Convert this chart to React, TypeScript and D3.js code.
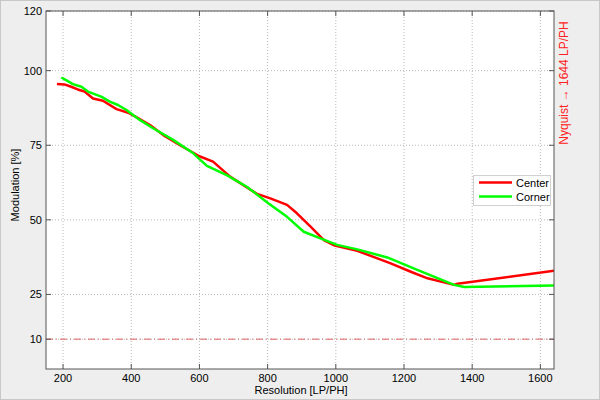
import React from "react";
import * as d3 from "d3";

const centerX = [182, 204, 224, 243, 263, 288, 317, 357, 391, 415, 455, 494, 543, 600, 640, 690, 769, 808, 857, 886, 926, 965, 994, 1063, 1122, 1161, 1220, 1269, 1347, 1357, 1640];
const centerY = [95.5, 95.4, 94.6, 93.7, 93.0, 90.7, 89.9, 87.1, 85.9, 84.4, 81.8, 78.4, 75.0, 71.3, 69.5, 64.5, 58.7, 57.2, 55.0, 52.2, 47.7, 43.2, 41.5, 39.6, 37.1, 35.4, 32.6, 30.4, 28.2, 28.6, 32.9];
const cornerX = [195, 209, 229, 254, 273, 312, 337, 361, 386, 425, 464, 523, 582, 622, 680, 739, 803, 857, 906, 955, 1004, 1063, 1151, 1239, 1347, 1377, 1640];
const cornerY = [97.7, 96.8, 95.5, 94.6, 93.0, 91.3, 89.6, 88.5, 86.8, 83.5, 80.7, 76.8, 72.3, 68.1, 65.0, 61.1, 55.5, 51.0, 46.0, 43.8, 41.6, 40.1, 37.4, 33.2, 28.2, 27.5, 28.0];
const xTicks = [200, 400, 600, 800, 1000, 1200, 1400, 1600];
const yTicks = [10, 25, 50, 75, 100, 120];
const refLevel = [10];
const seriesNames = ["Center", "Corner"];
const seriesColors = ["#ff0000", "#00ff00"];

const W = 600, H = 400;
const L = 46, R = 554, T = 11, B = 369;
const font = "Arial, 'Liberation Sans', sans-serif";

export default function App() {
  const x = d3.scaleLinear().domain([150, 1640]).range([L, R]);
  const y = d3.scaleLinear().domain([0, 120]).range([B, T]);
  const line = d3.line<[number, number]>().x(d => x(d[0])).y(d => y(d[1]));
  const center: [number, number][] = centerX.map((v, i) => [v, centerY[i]]);
  const corner: [number, number][] = cornerX.map((v, i) => [v, cornerY[i]]);
  const series = [center, corner];
  return (
    <svg width={W} height={H} style={{ position: "absolute", left: 0, top: 0 }} fontFamily={font}>
      <rect x={0} y={0} width={W} height={H} fill="#eeeeee" />
      <rect x={0.5} y={0.5} width={W - 1} height={H - 1} fill="none" stroke="#c8c8c8" />
      <rect x={L} y={T} width={R - L} height={B - T} fill="#ffffff" />
      <defs>
        <clipPath id="plot">
          <rect x={L} y={T} width={R - L} height={B - T} />
        </clipPath>
      </defs>
      {xTicks.map(t => (
        <line key={"gx" + t} x1={x(t)} x2={x(t)} y1={T} y2={B} stroke="#b8b8b8" strokeWidth={1} strokeDasharray="1,2" />
      ))}
      {yTicks.map(t => (
        <line key={"gy" + t} x1={L} x2={R} y1={y(t)} y2={y(t)} stroke="#b8b8b8" strokeWidth={1} strokeDasharray="1,2" />
      ))}
      {refLevel.map(t => (
        <line key={"ref" + t} x1={L} x2={R} y1={y(t)} y2={y(t)} stroke="#e06060" strokeWidth={1} strokeDasharray="7,3,1,3" />
      ))}
      <g clipPath="url(#plot)">
        {series.map((s, i) => (
          <path key={i} d={line(s) || ""} fill="none" stroke={seriesColors[i]} strokeWidth={2.5} strokeLinejoin="round" />
        ))}
      </g>
      <rect x={L} y={T} width={R - L} height={B - T} fill="none" stroke="#555555" strokeWidth={1} />
      {xTicks.map(t => (
        <g key={"tx" + t}>
          <line x1={x(t)} x2={x(t)} y1={B} y2={B - 5} stroke="#555555" />
          <line x1={x(t)} x2={x(t)} y1={T} y2={T + 5} stroke="#555555" />
          <text x={x(t)} y={382} fontSize={11} textAnchor="middle" fill="#000">{t}</text>
        </g>
      ))}
      {yTicks.map(t => (
        <g key={"ty" + t}>
          <line x1={L} x2={L + 5} y1={y(t)} y2={y(t)} stroke="#555555" />
          <line x1={R} x2={R - 5} y1={y(t)} y2={y(t)} stroke="#555555" />
          <text x={42} y={y(t) + 4} fontSize={11} textAnchor="end" fill="#000">{t}</text>
        </g>
      ))}
      <text x={(L + R) / 2 + 1} y={394} fontSize={11} textAnchor="middle" fill="#000">Resolution [LP/PH]</text>
      <text transform={`translate(19,185) rotate(-90)`} fontSize={11} textAnchor="middle" fill="#000">Modulation [%]</text>
      <text transform={`translate(568,83) rotate(-90)`} fontSize={12} textAnchor="middle" fill="#ff2020">Nyquist → 1644 LP/PH</text>
      <g>
        <rect x={473.5} y={175.5} width={77} height={30} fill="#ffffff" stroke="#d0d0d0" />
        {seriesNames.map((n, i) => (
          <g key={n}>
            <line x1={479} x2={512} y1={182.5 + i * 14} y2={182.5 + i * 14} stroke={seriesColors[i]} strokeWidth={2.5} />
            <text x={516} y={186.5 + i * 14} fontSize={11} fill="#000">{n}</text>
          </g>
        ))}
      </g>
    </svg>
  );
}
